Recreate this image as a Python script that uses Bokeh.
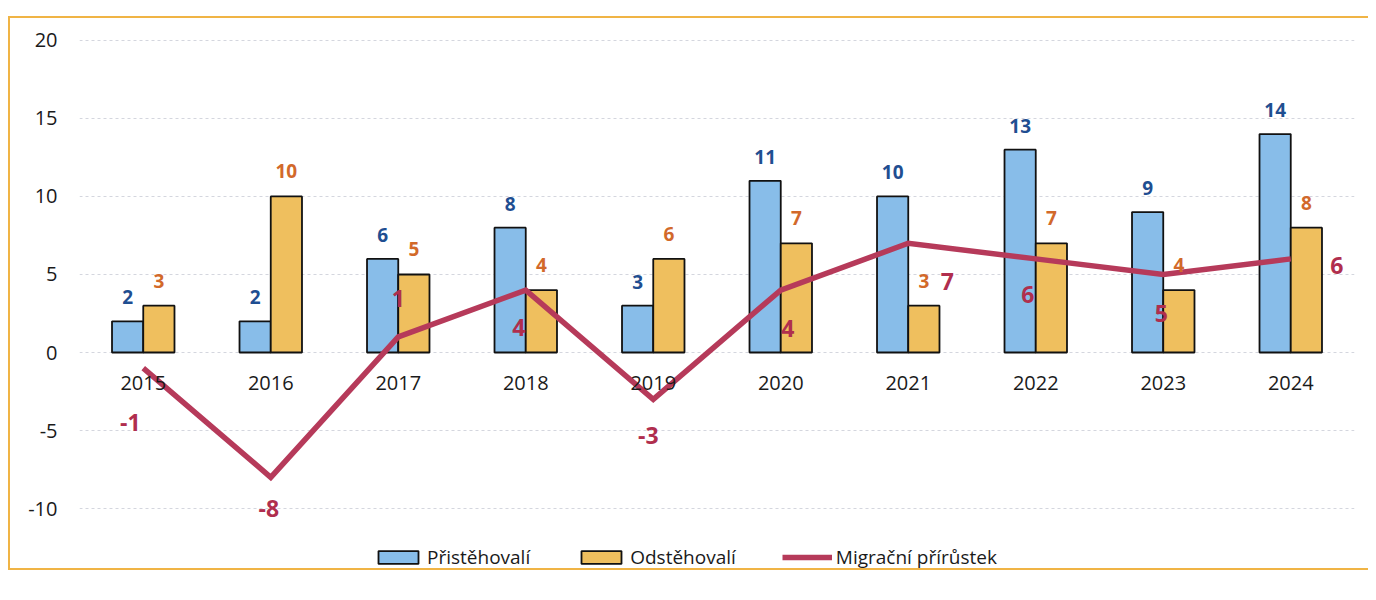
from bokeh.plotting import figure
from bokeh.models import (ColumnDataSource, FactorRange, Range1d, FixedTicker,
                          Legend, LegendItem, PrintfTickFormatter)
from bokeh.transform import dodge
from bokeh.core.properties import value
from bokeh.embed import file_html
from bokeh.resources import INLINE

# ---- data ----
years = ["2015", "2016", "2017", "2018", "2019", "2020", "2021", "2022", "2023", "2024"]
pristehovali = [2, 2, 6, 8, 3, 11, 10, 13, 9, 14]
odstehovali = [3, 10, 5, 4, 6, 7, 3, 7, 4, 8]
prirustek = [-1, -8, 1, 4, -3, 4, 7, 6, 5, 6]
y_ticks = [-10, -5, 0, 5, 10, 15, 20]
series_names = ["Přistěhovalí", "Odstěhovalí", "Migrační přírůstek"]

# label placement (screen pixel offsets, style only)
prir_dx = [-13, -2, 0, -7, -5, 7, 39, -8, -2, 46]
prir_dy = [54, 31, -38, 37, 36, 38, 38, 36, 39, 7]

BLUE = "#88BDE9"
ORANGE = "#EFBF5E"
LINE = "#B63A5A"
FONT = "Open Sans"
FRAME = "#F0B445"

src = ColumnDataSource(dict(
    year=years, prist=pristehovali, odst=odstehovali, prir=prirustek,
    prist_lbl=[str(v) for v in pristehovali],
    odst_lbl=[str(v) for v in odstehovali],
    prir_lbl=[str(v) for v in prirustek],
    dx=prir_dx, dy=prir_dy,
    zero=[0] * len(years),
))

p = figure(width=1360, height=554, output_backend="svg", toolbar_location=None,
           x_range=FactorRange(factors=years, range_padding=0),
           y_range=Range1d(-14.1, 21.15),
           min_border_left=69, min_border_right=16, min_border_top=4, min_border_bottom=0)
p.margin = (16, 0, 0, 8)
p.styles = {"border-left": f"2px solid {FRAME}", "border-top": f"2px solid {FRAME}",
            "border-bottom": f"2px solid {FRAME}", "border-right": "none"}
p.outline_line_color = None
p.background_fill_color = "white"
p.border_fill_color = "white"

# axes
p.xaxis.visible = False
p.xgrid.visible = False
p.yaxis.ticker = FixedTicker(ticks=y_ticks)
p.yaxis.formatter = PrintfTickFormatter(format="%d")
p.yaxis.axis_line_color = None
p.yaxis.major_tick_line_color = None
p.yaxis.minor_tick_line_color = None
p.yaxis.major_label_text_font = FONT
p.yaxis.major_label_text_font_size = "20px"
p.yaxis.major_label_text_color = "#1a1a1a"
p.yaxis.major_label_standoff = 16
p.ygrid.ticker = FixedTicker(ticks=y_ticks)
p.ygrid.grid_line_color = "#D4D6DE"
p.ygrid.grid_line_dash = "3 3"
p.ygrid.grid_line_width = 1.2

bw = 0.245
r_blue = p.vbar(x=dodge("year", -bw / 2, range=p.x_range), top="prist", bottom=0, width=bw,
                source=src, fill_color=BLUE, line_color="#111111", line_width=1.8)
r_orange = p.vbar(x=dodge("year", bw / 2, range=p.x_range), top="odst", bottom=0, width=bw,
                  source=src, fill_color=ORANGE, line_color="#111111", line_width=1.8)
r_line = p.line(x="year", y="prir", source=src, line_color=LINE, line_width=5.5,
                line_join="miter")

# category labels just below zero
p.text(x="year", y="zero", text="year", source=src, text_font=value(FONT),
       text_font_size="20px", text_color="#1a1a1a", text_align="center",
       text_baseline="middle", y_offset=30)

# data labels
p.text(x=dodge("year", -bw / 2, range=p.x_range), y="prist", text="prist_lbl", source=src,
       text_font=value(FONT), text_font_style="bold", text_font_size="19px",
       text_color="#1F4E91", text_align="center", text_baseline="middle", y_offset=-24)
p.text(x=dodge("year", bw / 2, range=p.x_range), y="odst", text="odst_lbl", source=src,
       text_font=value(FONT), text_font_style="bold", text_font_size="19px",
       text_color="#D2692A", text_align="center", text_baseline="middle", y_offset=-25)
p.text(x="year", y="prir", text="prir_lbl", source=src,
       text_font=value(FONT), text_font_style="bold", text_font_size="23px",
       text_color="#B02E4E", text_align="center", text_baseline="middle",
       x_offset="dx", y_offset="dy")

legend = Legend(items=[
    LegendItem(label=series_names[0], renderers=[r_blue]),
    LegendItem(label=series_names[1], renderers=[r_orange]),
    LegendItem(label=series_names[2], renderers=[r_line]),
], orientation="horizontal", location=(292, 0),
    glyph_width=50, glyph_height=16, label_standoff=4, spacing=46,
    label_text_font=FONT, label_text_font_size="19px", label_text_color="#1a1a1a",
    background_fill_alpha=0, border_line_alpha=0, padding=2, margin=0)
p.add_layout(legend, "center")

open("out.html", "w").write(file_html(p, INLINE))
